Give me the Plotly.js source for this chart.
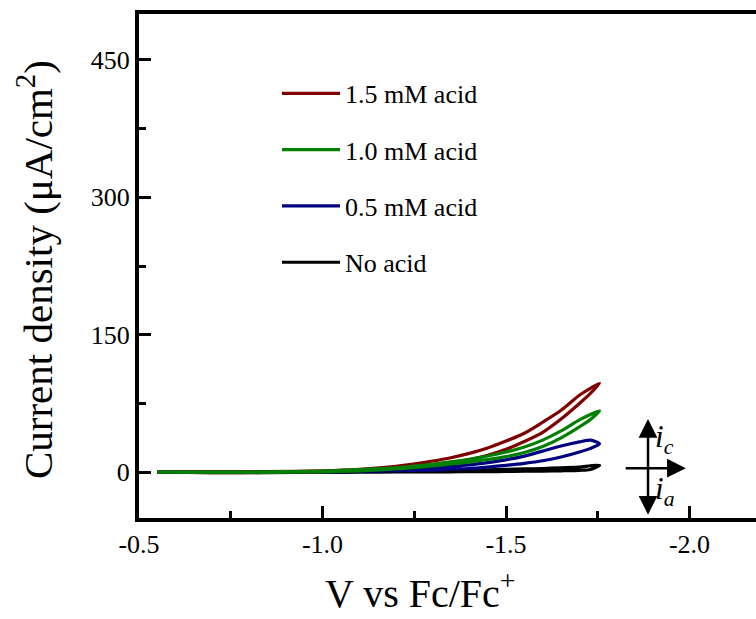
<!DOCTYPE html>
<html>
<head>
<meta charset="utf-8">
<script src="https://cdn.plot.ly/plotly-3.0.1.min.js"></script>
<style>
  html, body { margin: 0; padding: 0; background: #ffffff; overflow: hidden; }
  #frame { width: 756px; height: 619px; overflow: hidden; position: relative; }
  #cv { width: 800px; height: 619px; }
</style>
</head>
<body>
<div id="frame"><div id="cv"></div></div>
<script>
// Potential sweep (V vs Fc/Fc+): cathodic scan out to the vertex, then back
const sweepForward = [-0.55, -0.70, -0.85, -1.00, -1.10, -1.20, -1.30, -1.35, -1.40, -1.45, -1.50, -1.55, -1.60, -1.65, -1.70, -1.73, -1.755];
const sweepReturn  = [-1.73, -1.70, -1.65, -1.60, -1.55, -1.50, -1.45, -1.40, -1.35, -1.30, -1.20, -1.10, -1.00, -0.85, -0.70, -0.55];

// Current density (µA/cm²) for each acid concentration
const acid15Forward = [0, -0.5, -0.3, 0.5, 2, 4.5, 8.3, 10.7, 13.8, 18.5, 25, 33.5, 43.5, 58, 75, 86, 97];
const acid15Return  = [91.5, 84, 67.5, 54.5, 42.5, 34, 26.5, 20.5, 15.8, 12.2, 6.5, 3.2, 1.5, 0.5, 0, 0];

const acid10Forward = [0, -0.3, -0.2, 0.3, 1.5, 3.5, 6.8, 8.9, 11, 13.8, 17, 21.5, 28, 37.5, 49.5, 57.5, 67];
const acid10Return  = [63, 57, 45, 35, 27.5, 22, 17.6, 14, 11.3, 8.5, 4.8, 2.8, 1.2, 0.4, 0, 0];

const acid05Forward = [0, -0.3, -0.2, 0, 0.8, 1.5, 2.3, 3.2, 4, 5.6, 7.5, 9.7, 12.5, 16.5, 22, 26, 31];
const acid05Return  = [35, 33, 28.5, 23, 17.5, 13.5, 10.5, 8, 6.3, 4.8, 3, 1.5, 0.5, 0.2, 0, 0];

const noAcidForward = [0, -0.5, -0.4, -0.2, 0, 0.2, 0.3, 0.4, 0.5, 0.6, 0.8, 1, 1.2, 1.5, 2, 3, 7.5];
const noAcidReturn  = [7, 5.5, 4.8, 4, 3.5, 3, 2.5, 2, 1.6, 1.3, 0.8, 0.5, 0.2, 0, 0, 0];

const seriesNames  = ['No acid', '0.5 mM acid', '1.5 mM acid', '1.0 mM acid'];
const seriesColors = ['#000000', '#000080', '#800000', '#008000'];
const legendOrder  = [4, 3, 1, 2];
const seriesData = [
  [noAcidForward, noAcidReturn],
  [acid05Forward, acid05Return],
  [acid15Forward, acid15Return],
  [acid10Forward, acid10Return]
];

// Axis tick positions and their printed labels (plain hyphen minus)
const xTickVals   = [-0.5, -1.0, -1.5, -2.0];
const xTickLabels = ['-0.5', '-1.0', '-1.5', '-2.0'];
const yTickVals   = [0, 150, 300, 450];
const yTickLabels = ['0', '150', '300', '450'];

const serif = 'Liberation Serif, Times New Roman, serif';

// The figure runs past the right edge of the visible frame, so the
// plotting area continues beyond -2.0 V without a closing right border.
const figW = 800, figH = 619;
const mL = 139, mR = 0, mT = 14, mB = 101;
const plotW = figW - mL - mR;
const px = v => (v - mL) / plotW;          // page x (px) -> paper x

const traces = seriesData.map(([fwd, ret], i) => ({
  type: 'scatter',
  mode: 'lines',
  name: seriesNames[i],
  x: sweepForward.concat(sweepReturn),
  y: fwd.concat(ret),
  line: { color: seriesColors[i], width: 3.2, shape: 'spline', smoothing: 0.8 },
  legendgroup: 'g' + i,
  legendrank: legendOrder[i]
}));

const layout = {
  width: figW,
  height: figH,
  margin: { l: mL, r: mR, t: mT, b: mB },
  font: { family: serif, color: '#000000' },
  showlegend: true,
  legend: {
    x: px(277), y: 0.889, xanchor: 'left', yanchor: 'top',
    font: { family: serif, size: 26, color: '#000000' },
    bgcolor: 'rgba(0,0,0,0)',
    traceorder: 'grouped',
    tracegroupgap: 19.5,
    itemwidth: 58
  },
  xaxis: {
    range: [-0.5, -0.5 - plotW / 367],
    autorange: false,
    tickmode: 'array', tickvals: xTickVals, ticktext: xTickLabels,
    ticks: 'inside', ticklen: 12, tickwidth: 3, tickcolor: '#000000',
    minor: { dtick: 0.25, tick0: -0.5, ticks: 'inside', ticklen: 7, tickwidth: 3, tickcolor: '#000000' },
    showline: true, linewidth: 4, linecolor: '#000000', mirror: true,
    showgrid: false, zeroline: false,
    tickfont: { family: serif, size: 26, color: '#000000' }
  },
  yaxis: {
    range: [-50, 500],
    autorange: false,
    tickmode: 'array', tickvals: yTickVals, ticktext: yTickLabels,
    ticks: 'inside', ticklen: 12, tickwidth: 3, tickcolor: '#000000',
    minor: { dtick: 75, tick0: 0, ticks: 'inside', ticklen: 7, tickwidth: 3, tickcolor: '#000000' },
    showline: true, linewidth: 4, linecolor: '#000000', mirror: false,
    showgrid: false, zeroline: false,
    tickfont: { family: serif, size: 26, color: '#000000' }
  },
  annotations: [
    {
      xref: 'paper', yref: 'paper', x: px(35), y: 0.492,
      xanchor: 'center', yanchor: 'middle', textangle: -90, showarrow: false,
      text: 'Current density (μA/cm<sup>2</sup>)',
      font: { family: serif, size: 41, color: '#000000' }
    },
    {
      xref: 'paper', yref: 'paper', x: px(420), y: -0.143,
      xanchor: 'center', yanchor: 'middle', showarrow: false,
      text: 'V vs Fc/Fc<sup>+</sup>',
      font: { family: serif, size: 40, color: '#000000' }
    },
    // current-direction key: vertical double arrow and horizontal potential arrow
    {
      xref: 'x', yref: 'y', axref: 'x', ayref: 'y',
      x: -1.887, y: 58, ax: -1.887, ay: -48,
      text: '', showarrow: true, arrowside: 'end+start',
      arrowhead: 2, startarrowhead: 2, arrowsize: 1.5, startarrowsize: 1.5,
      arrowwidth: 2.5, arrowcolor: '#000000'
    },
    {
      xref: 'x', yref: 'y', axref: 'x', ayref: 'y',
      x: -1.99, y: 4.4, ax: -1.822, ay: 4.4,
      text: '', showarrow: true,
      arrowhead: 2, arrowsize: 1.5, arrowwidth: 2.5, arrowcolor: '#000000'
    },
    {
      xref: 'x', yref: 'y', x: -1.9, y: 36, xanchor: 'left', yanchor: 'middle',
      showarrow: false, text: '<i>i</i><sub><i>c</i></sub>',
      font: { family: serif, size: 31, color: '#000000' }
    },
    {
      xref: 'x', yref: 'y', x: -1.9, y: -20, xanchor: 'left', yanchor: 'middle',
      showarrow: false, text: '<i>i</i><sub><i>a</i></sub>',
      font: { family: serif, size: 31, color: '#000000' }
    }
  ]
};

Plotly.newPlot('cv', traces, layout, { displayModeBar: false, staticPlot: true });
</script>
</body>
</html>
